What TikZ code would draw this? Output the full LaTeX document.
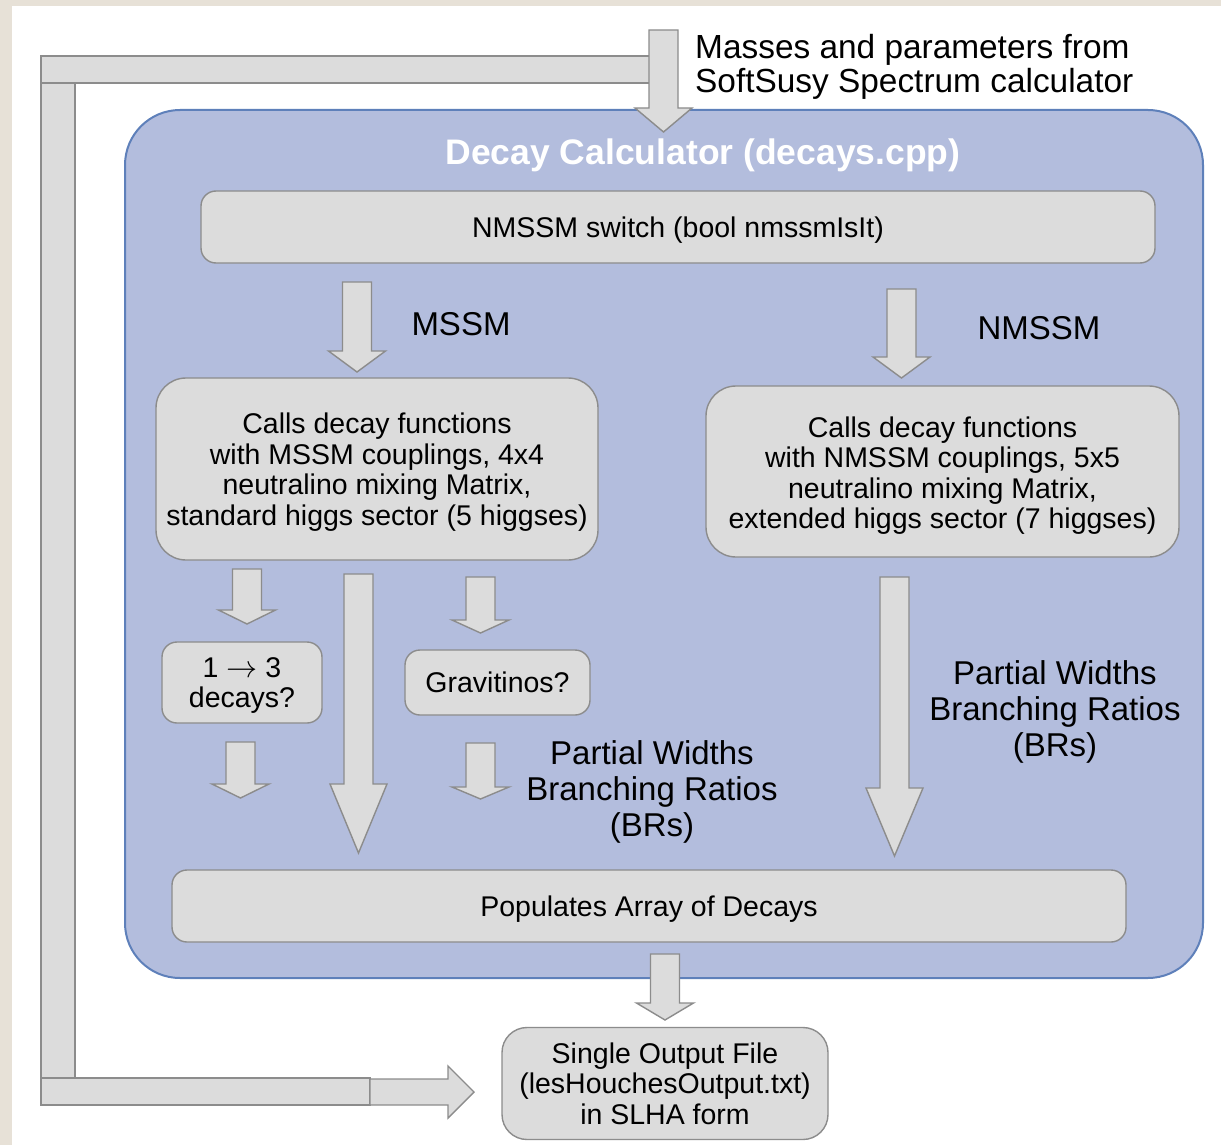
\documentclass[tikz,border=0pt]{standalone}
\usepackage{fontspec}
\usepackage{graphicx}
\setmainfont{Liberation Sans}
\usetikzlibrary{calc}

\definecolor{pagebg}{HTML}{E7E1D7}
\definecolor{panelfill}{HTML}{B3BDDD}
\definecolor{panelline}{HTML}{5E80BA}
\definecolor{boxfill}{HTML}{DCDCDC}
\definecolor{boxline}{HTML}{8C8C8C}

% vertical block arrow: centre x, top y, head base y, tip y
\newcommand\dnarr[4]{%
  \draw[blockarr] (#1-14.5,#2) -- (#1+14.5,#2) -- (#1+14.5,#3) -- (#1+28.5,#3)
    -- (#1,#4) -- (#1-28.5,#3) -- (#1-14.5,#3) -- cycle;}

\begin{document}
\begin{tikzpicture}[x=1pt,y=-1pt,
  blockarr/.style={draw=boxline, fill=boxfill, line width=1.4pt, line join=miter},
  gbox/.style={draw=boxline, fill=boxfill, line width=1.4pt, rounded corners=15pt,
    inner sep=0pt},
  boxtext/.style={inner sep=0pt, align=center, font=\fontsize{28.5}{30.5}\selectfont},
  lbl/.style={inner sep=0pt, align=center, font=\fontsize{33}{36}\selectfont}]

\useasboundingbox (0,0) rectangle (1221,1145);
\fill[pagebg] (0,0) rectangle (1221,1145);
\fill[white] (12,6) rectangle (1221,1145);

% feedback path from the spectrum input down to the output file
\draw[blockarr] (41,56) rectangle (650,83);
\draw[blockarr] (41,83) rectangle (75,1078);
\draw[blockarr] (41,1078) rectangle (370,1105);
\draw[blockarr] (370,1079) -- (448,1079) -- (448,1066) -- (474,1092) -- (448,1118)
  -- (448,1105) -- (370,1105) -- cycle;

% decay calculator panel
\node[draw=panelline, fill=panelfill, line width=2pt, rounded corners=55pt,
  minimum width=1078pt, minimum height=868pt, inner sep=0pt] (panel) at (664,544) {};
\node[text=white, inner sep=0pt, font=\fontsize{35.5}{38}\selectfont\bfseries]
  (title) at (703,155) {Decay Calculator (decays.cpp)};

\node[inner sep=0pt, anchor=west, align=left, font=\fontsize{33.4}{34}\selectfont]
  (input) at (695,66.5) {Masses and parameters from\\SoftSusy Spectrum calculator};
\dnarr{663.5}{30}{108}{132}

\node[gbox, minimum width=954pt, minimum height=72pt] (switch) at (678,227) {};
\node[boxtext] (switchtext) at ($(switch.center)+(0,3)$) {NMSSM switch (bool nmssmIsIt)};

\dnarr{357}{282}{351}{372}
\node[lbl] (mssm) at (461,324) {MSSM};
\dnarr{901.5}{289}{357}{378}
\node[lbl] (nmssm) at (1039,328) {NMSSM};

\node[gbox, rounded corners=30pt, minimum width=442pt, minimum height=182pt]
  (mssmbox) at (377,469) {};
\node[boxtext] (mssmtext) at ($(mssmbox.center)+(0,3)$)
  {Calls decay functions\\with MSSM couplings, 4x4\\neutralino mixing Matrix,\\standard higgs sector (5 higgses)};
\node[gbox, rounded corners=30pt, minimum width=473pt, minimum height=171pt]
  (nmssmbox) at (942.5,471.5) {};
\node[boxtext] (nmssmtext) at ($(nmssmbox.center)+(0,4)$)
  {Calls decay functions\\with NMSSM couplings, 5x5\\neutralino mixing Matrix,\\extended higgs sector (7 higgses)};

\dnarr{247}{569}{610}{624}
\dnarr{480.5}{577}{620}{633}
\node[gbox, minimum width=160pt, minimum height=81pt] (threebody) at (242,682.5) {};
\node[boxtext] (threebodytext) at ($(threebody.center)+(0,3)$)
  {1 \scalebox{1.25}{$\rightarrow$} 3\\decays?};
\node[gbox, minimum width=185pt, minimum height=65pt] (gravitino) at (497.5,682.5) {};
\node[boxtext] (gravitinotext) at (gravitino.center) {Gravitinos?};
\dnarr{240.5}{742}{784}{798}
\dnarr{480.5}{743}{787}{799}
\dnarr{358.5}{574}{784}{853}
\dnarr{894.5}{577}{788}{856}

\node[lbl] (brleft) at (652,792) {Partial Widths\\Branching Ratios\\(BRs)};
\node[lbl] (brright) at (1055,712) {Partial Widths\\Branching Ratios\\(BRs)};

\node[gbox, minimum width=954pt, minimum height=72pt] (populate) at (649,906) {};
\node[boxtext] (populatetext) at ($(populate.center)+(0,3)$) {Populates Array of Decays};

\dnarr{665}{954}{1003}{1020}
\node[gbox, rounded corners=25pt, minimum width=326pt, minimum height=112pt]
  (output) at (665,1083.5) {};
\node[boxtext] (outputtext) at (output.center)
  {Single Output File\\(lesHouchesOutput.txt)\\in SLHA form};
\end{tikzpicture}
\end{document}
